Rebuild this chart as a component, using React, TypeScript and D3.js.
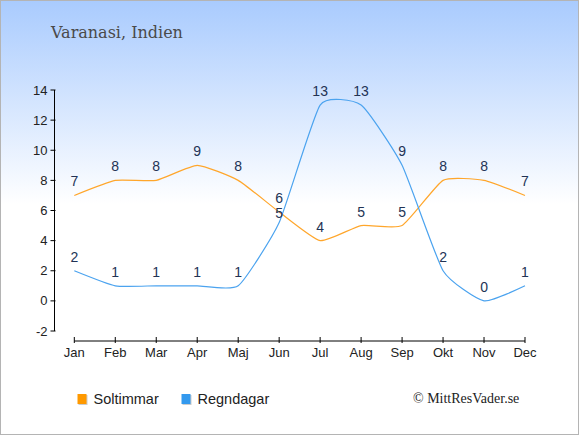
import React from 'react';
import * as d3 from 'd3';

const months = ['Jan', 'Feb', 'Mar', 'Apr', 'Maj', 'Jun', 'Jul', 'Aug', 'Sep', 'Okt', 'Nov', 'Dec'];
const sunHours = [7, 8, 8, 9, 8, 5.9, 4, 5, 5, 8, 8, 7];
const rainDays = [2, 1, 1, 1, 1, 5.2, 13, 13, 9, 2, 0, 1];
const yTicks = [-2, 0, 2, 4, 6, 8, 10, 12, 14];

const SUN = '#ffa62b';
const RAIN = '#4ba3ef';
const LABEL = '#223355';

const W = 580;
const H = 435;

const x = d3.scalePoint<string>().domain(months).range([74.3, 525]);
const y = d3.scaleLinear().domain([-2, 14]).range([331, 90]);

const line = d3
  .line<number>()
  .x((_, i) => x(months[i]) as number)
  .y(d => y(d))
  .curve(d3.curveCardinal.tension(0.5));

const series = [
  { name: 'Soltimmar', values: sunHours, color: SUN, legend: '#ff9900' },
  { name: 'Regndagar', values: rainDays, color: RAIN, legend: '#3399ee' },
];

// label baselines, pushing apart labels of the same month that would collide
const labelY = (si: number, i: number) => {
  const a = y(sunHours[i]) - 9;
  const b = y(rainDays[i]) - 9;
  if (Math.abs(a - b) >= 15) return si === 0 ? a : b;
  const top = Math.min(a, b);
  const own = si === 0 ? a : b;
  return own === top ? top : top + 15;
};

export default function App() {
  const axisY = 54.5;
  const axisX = 341;

  return (
    <svg
      width={W}
      height={H}
      style={{ position: 'absolute', left: 0, top: 0 }}
      fontFamily="'Liberation Sans', Arial, sans-serif"
    >
      <defs>
        <linearGradient id="bg" x1="0" y1="0" x2="0" y2="1">
          <stop offset="0" stopColor="#a9cbfe" />
          <stop offset="0.47" stopColor="#ffffff" />
          <stop offset="1" stopColor="#ffffff" />
        </linearGradient>
      </defs>
      <rect x={0.5} y={0.5} width={W - 2} height={H - 1} fill="url(#bg)" stroke="#b4b4b4" />

      <text x={51} y={38} fontFamily="'DejaVu Serif', serif" fontSize={16} fill="#4a4a4a">
        Varanasi, Indien
      </text>

      {/* y axis */}
      <line x1={axisY} x2={axisY} y1={y(14)} y2={y(-2)} stroke="#000" />
      {yTicks.map(t => (
        <g key={t}>
          <line x1={axisY - 4} x2={axisY + 1} y1={y(t)} y2={y(t)} stroke="#000" />
          <text x={axisY - 7} y={y(t)} dy="0.35em" textAnchor="end" fontSize={13} fill="#222">
            {t}
          </text>
        </g>
      ))}

      {/* x axis */}
      <line x1={x('Jan')} x2={x('Dec')} y1={axisX} y2={axisX} stroke="#000" />
      {months.map(m => (
        <g key={m}>
          <line x1={x(m)} x2={x(m)} y1={axisX - 4} y2={axisX + 2} stroke="#000" />
          <text x={x(m)} y={357} textAnchor="middle" fontSize={13} fill="#222">
            {m}
          </text>
        </g>
      ))}

      {series.map((s, si) => (
        <g key={s.name}>
          <path d={line(s.values) || ''} fill="none" stroke={s.color} strokeWidth={1.2} />
          {s.values.map((v, i) => (
            <text
              key={i}
              x={x(months[i])}
              y={labelY(si, i)}
              textAnchor="middle"
              fontSize={14}
              fill={LABEL}
            >
              {Math.round(v)}
            </text>
          ))}
        </g>
      ))}

      {/* legend */}
      {series.map((s, i) => {
        const lx = i === 0 ? 77.5 : 181.5;
        return (
          <g key={s.name}>
            <rect x={lx + 1} y={395} width={9} height={10} fill="#ccc" />
            <rect x={lx} y={394} width={9} height={10} fill={s.legend} />
            <text x={lx + 16} y={404} fontSize={14.5} fill="#222">
              {s.name}
            </text>
          </g>
        );
      })}
      <text x={413} y={403} fontFamily="'Liberation Serif', 'Times New Roman', serif" fontSize={14} fill="#222">
        © MittResVader.se
      </text>
    </svg>
  );
}
